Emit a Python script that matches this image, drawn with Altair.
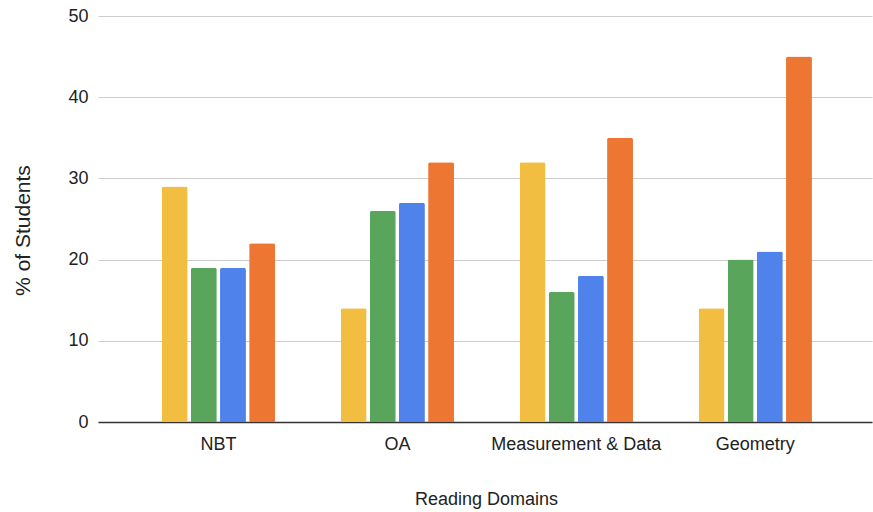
import altair as alt
import pandas as pd

# Reading domains on the x axis
domains = ["NBT", "OA", "Measurement & Data", "Geometry"]

# Four series of student percentages, one value per domain
series_names = ["Series 1", "Series 2", "Series 3", "Series 4"]
series_1 = [29, 14, 32, 14]
series_2 = [19, 26, 16, 20]
series_3 = [19, 27, 18, 21]
series_4 = [22, 32, 35, 45]

colors = ["#F1BE42", "#58A55B", "#5082EC", "#EC7632"]

rows = []
for name, vals in zip(series_names, [series_1, series_2, series_3, series_4]):
    for d, v in zip(domains, vals):
        rows.append({"domain": d, "series": name, "pct": v})
df = pd.DataFrame(rows)

FONT = "Liberation Sans"

chart = (
    alt.Chart(df)
    .mark_bar(cornerRadiusTopLeft=2, cornerRadiusTopRight=2)
    .encode(
        x=alt.X(
            "domain:N",
            sort=domains,
            scale=alt.Scale(paddingInner=0.367, paddingOuter=0.346, align=0.515),
            axis=alt.Axis(
                title="Reading Domains",
                labelAngle=0,
                ticks=False,
                labelPadding=13,
                labelFontSize=18,
                labelColor="#222222",
                labelFont=FONT,
                titleFont=FONT,
                titleFontSize=18,
                titleFontWeight="normal",
                titleColor="#222222",
                titleX=388,
                titleY=68,
                titleBaseline="top",
                domainColor="#333333",
                domainWidth=1.5,
                grid=False,
            ),
        ),
        xOffset=alt.XOffset(
            "series:N",
            sort=series_names,
            scale=alt.Scale(paddingInner=0.11),
        ),
        y=alt.Y(
            "pct:Q",
            scale=alt.Scale(domain=[0, 50], nice=False),
            axis=alt.Axis(
                title="% of Students",
                values=[0, 10, 20, 30, 40, 50],
                ticks=False,
                domain=False,
                labelPadding=10,
                labelFontSize=18,
                labelColor="#222222",
                labelFont=FONT,
                titleFont=FONT,
                titleFontSize=21,
                titleFontWeight="normal",
                titleColor="#222222",
                titleX=-75,
                titleY=214,
                titleBaseline="middle",
                titleAlign="center",
                gridColor="#cccccc",
                gridWidth=1,
            ),
        ),
        color=alt.Color(
            "series:N",
            sort=series_names,
            scale=alt.Scale(domain=series_names, range=colors),
            legend=None,
        ),
    )
    .properties(
        width=774,
        height=406,
        autosize=alt.AutoSizeParams(type="none"),
        padding={"left": 98, "top": 16, "right": 1, "bottom": 90},
        background="white",
    )
    .configure_view(stroke=None)
)

chart.save("out.html", embed_options={"renderer": "svg", "actions": False})
